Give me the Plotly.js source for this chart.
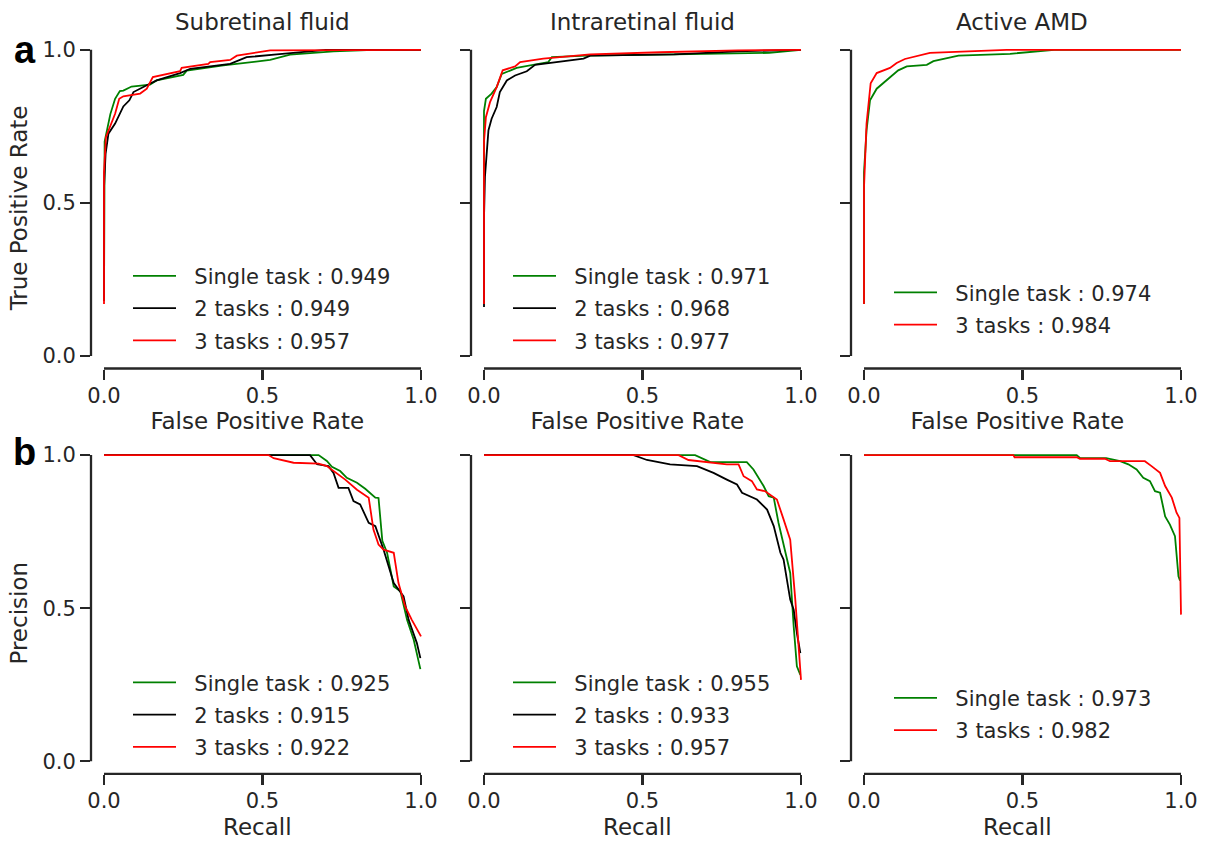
<!DOCTYPE html>
<html><head><meta charset="utf-8">
<script src="https://cdn.plot.ly/plotly-3.0.1.min.js"></script>
<style>html,body{margin:0;padding:0;background:#fff}</style>
</head><body><div id="chart" style="width:1206px;height:841px"></div>
<script>
// ---------------- data ----------------
const panelTitles = ["Subretinal fluid", "Intraretinal fluid", "Active AMD"];
const tickVals = [0, 0.5, 1];
const tickText = ["0.0", "0.5", "1.0"];

// ROC: Subretinal fluid
const srfRocSingleX = [0, 0, 0.002, 0.01, 0.02, 0.035, 0.042, 0.05, 0.061, 0.087, 0.145, 0.166, 0.25, 0.261, 0.377, 0.524, 0.587, 0.724, 0.85, 1.0];
const srfRocSingleY = [0.18, 0.6, 0.70, 0.74, 0.79, 0.84, 0.851, 0.865, 0.867, 0.88, 0.886, 0.90, 0.918, 0.932, 0.949, 0.967, 0.984, 0.995, 1.0, 1.0];
const srfRoc2X = [0, 0, 0.005, 0.014, 0.035, 0.05, 0.061, 0.08, 0.093, 0.135, 0.166, 0.24, 0.272, 0.398, 0.45, 0.545, 0.7, 1.0];
const srfRoc2Y = [0.18, 0.55, 0.66, 0.726, 0.759, 0.791, 0.815, 0.835, 0.862, 0.884, 0.90, 0.924, 0.938, 0.954, 0.976, 0.985, 1.0, 1.0];
const srfRoc3X = [0, 0, 0.006, 0.019, 0.035, 0.048, 0.061, 0.114, 0.135, 0.154, 0.24, 0.245, 0.329, 0.335, 0.398, 0.419, 0.482, 0.524, 1.0];
const srfRoc3Y = [0.17, 0.6, 0.715, 0.748, 0.791, 0.84, 0.848, 0.857, 0.873, 0.911, 0.930, 0.941, 0.954, 0.96, 0.967, 0.981, 0.992, 0.998, 1.0];

// ROC: Intraretinal fluid
const irfRocSingleX = [0, 0, 0.006, 0.024, 0.04, 0.056, 0.103, 0.166, 0.203, 0.214, 0.324, 0.6, 0.9, 1.0];
const irfRocSingleY = [0.17, 0.80, 0.84, 0.857, 0.878, 0.921, 0.941, 0.954, 0.96, 0.976, 0.981, 0.985, 0.99, 1.0];
const irfRoc2X = [0, 0, 0.003, 0.014, 0.024, 0.04, 0.05, 0.072, 0.098, 0.135, 0.161, 0.314, 0.335, 0.6, 0.8, 1.0];
const irfRoc2Y = [0.16, 0.45, 0.585, 0.737, 0.775, 0.813, 0.862, 0.9, 0.916, 0.930, 0.951, 0.971, 0.981, 0.985, 0.995, 1.0];
const irfRoc3X = [0, 0, 0.006, 0.019, 0.04, 0.059, 0.098, 0.114, 0.187, 0.335, 0.556, 0.8, 1.0];
const irfRoc3Y = [0.17, 0.70, 0.78, 0.829, 0.878, 0.933, 0.946, 0.96, 0.971, 0.985, 0.992, 0.998, 1.0];

// ROC: Active AMD
const amdRocSingleX = [0, 0, 0.008, 0.019, 0.04, 0.072, 0.108, 0.135, 0.198, 0.219, 0.298, 0.461, 0.555, 0.6, 1.0];
const amdRocSingleY = [0.17, 0.6, 0.737, 0.835, 0.873, 0.902, 0.933, 0.946, 0.951, 0.963, 0.981, 0.987, 0.995, 1.0, 1.0];
const amdRoc3X = [0, 0, 0.008, 0.021, 0.04, 0.082, 0.103, 0.129, 0.208, 0.33, 0.45, 1.0];
const amdRoc3Y = [0.17, 0.55, 0.759, 0.891, 0.924, 0.941, 0.957, 0.970, 0.99, 0.995, 1.0, 1.0];

// PR: Subretinal fluid
const srfPrSingleX = [0, 0.677, 0.703, 0.719, 0.745, 0.766, 0.798, 0.824, 0.856, 0.866, 0.878, 0.893, 0.914, 0.935, 0.956, 0.977, 0.998];
const srfPrSingleY = [1, 1, 0.981, 0.962, 0.948, 0.926, 0.910, 0.890, 0.861, 0.86, 0.72, 0.681, 0.571, 0.555, 0.462, 0.397, 0.301];
const srfPr2X = [0, 0.650, 0.672, 0.708, 0.724, 0.740, 0.771, 0.787, 0.808, 0.835, 0.856, 0.882, 0.914, 0.945, 0.961, 0.987, 0.998];
const srfPr2Y = [1, 1, 0.970, 0.964, 0.942, 0.893, 0.893, 0.850, 0.839, 0.779, 0.768, 0.691, 0.582, 0.539, 0.462, 0.386, 0.337];
const srfPr3X = [0, 0.519, 0.535, 0.598, 0.677, 0.703, 0.761, 0.798, 0.835, 0.850, 0.866, 0.882, 0.914, 0.929, 0.950, 0.971, 1.0];
const srfPr3Y = [1, 1, 0.990, 0.975, 0.972, 0.964, 0.920, 0.887, 0.861, 0.757, 0.708, 0.691, 0.681, 0.582, 0.506, 0.462, 0.408];

// PR: Intraretinal fluid
const irfPrSingleX = [0, 0.666, 0.714, 0.829, 0.850, 0.882, 0.898, 0.914, 0.929, 0.950, 0.966, 0.977, 0.987, 0.998];
const irfPrSingleY = [1, 1, 0.977, 0.977, 0.953, 0.899, 0.866, 0.861, 0.779, 0.691, 0.615, 0.440, 0.310, 0.282];
const irfPr2X = [0, 0.472, 0.514, 0.587, 0.672, 0.724, 0.766, 0.798, 0.814, 0.861, 0.893, 0.914, 0.935, 0.945, 0.966, 0.977, 0.987, 0.998];
const irfPr2Y = [1, 1, 0.984, 0.970, 0.964, 0.942, 0.920, 0.904, 0.877, 0.855, 0.822, 0.768, 0.681, 0.659, 0.528, 0.495, 0.419, 0.353];
const irfPr3X = [0, 0.614, 0.645, 0.766, 0.803, 0.819, 0.845, 0.861, 0.887, 0.924, 0.945, 0.966, 0.982, 0.992, 1.0];
const irfPr3Y = [1, 1, 0.984, 0.970, 0.970, 0.931, 0.915, 0.888, 0.882, 0.855, 0.790, 0.724, 0.528, 0.397, 0.266];

// PR: Active AMD
const amdPrSingleX = [0, 0.671, 0.681, 0.764, 0.808, 0.834, 0.860, 0.881, 0.902, 0.918, 0.934, 0.950, 0.965, 0.981, 0.992, 0.997];
const amdPrSingleY = [1, 1, 0.991, 0.99, 0.980, 0.970, 0.953, 0.926, 0.915, 0.882, 0.877, 0.800, 0.773, 0.735, 0.604, 0.59];
const amdPr3X = [0, 0.471, 0.475, 0.671, 0.681, 0.760, 0.776, 0.886, 0.907, 0.934, 0.950, 0.971, 0.986, 0.995, 1.0];
const amdPr3Y = [1, 1, 0.993, 0.993, 0.988, 0.988, 0.98, 0.980, 0.964, 0.942, 0.899, 0.861, 0.812, 0.795, 0.479];

const srfRocAuc = ["0.949", "0.949", "0.957"];
const irfRocAuc = ["0.971", "0.968", "0.977"];
const amdRocAuc = ["0.974", "0.984"];
const srfPrAuc = ["0.925", "0.915", "0.922"];
const irfPrAuc = ["0.955", "0.933", "0.957"];
const amdPrAuc = ["0.973", "0.982"];

// ---------------- layout helpers ----------------
const W = 1206, H = 841;
const TXT = "#262626";
const FONT = "DejaVu Sans, Verdana, sans-serif";
const colPx0 = [104, 484, 864];
const SX = 317;
const rowPy0 = [356, 761.3];
const SY = 306.2;
const XR = [-13 / 317, 1.008];
const YR = [-12.5 / 306, 1.008];
const C_SINGLE = "#008000", C_TWO = "#000000", C_THREE = "#ff0000";
const PAD = "\u00a0\u00a0";

const traces = [];
function addLine(x, y, color, name, idx, legendId, group) {
  traces.push({
    type: "scatter", mode: "lines", x: x, y: y, name: PAD + name,
    line: {color: color, width: 1.8},
    xaxis: idx === 1 ? "x" : "x" + idx, yaxis: idx === 1 ? "y" : "y" + idx,
    legend: legendId, legendgroup: group, showlegend: true, hoverinfo: "skip"
  });
}
addLine(srfRocSingleX, srfRocSingleY, C_SINGLE, "Single task : " + srfRocAuc[0], 1, "legend", "g1");
addLine(srfRoc2X, srfRoc2Y, C_TWO, "2 tasks : " + srfRocAuc[1], 1, "legend", "g2");
addLine(srfRoc3X, srfRoc3Y, C_THREE, "3 tasks : " + srfRocAuc[2], 1, "legend", "g3");
addLine(irfRocSingleX, irfRocSingleY, C_SINGLE, "Single task : " + irfRocAuc[0], 2, "legend2", "g1");
addLine(irfRoc2X, irfRoc2Y, C_TWO, "2 tasks : " + irfRocAuc[1], 2, "legend2", "g2");
addLine(irfRoc3X, irfRoc3Y, C_THREE, "3 tasks : " + irfRocAuc[2], 2, "legend2", "g3");
addLine(amdRocSingleX, amdRocSingleY, C_SINGLE, "Single task : " + amdRocAuc[0], 3, "legend3", "g1");
addLine(amdRoc3X, amdRoc3Y, C_THREE, "3 tasks : " + amdRocAuc[1], 3, "legend3", "g3");
addLine(srfPrSingleX, srfPrSingleY, C_SINGLE, "Single task : " + srfPrAuc[0], 4, "legend4", "g1");
addLine(srfPr2X, srfPr2Y, C_TWO, "2 tasks : " + srfPrAuc[1], 4, "legend4", "g2");
addLine(srfPr3X, srfPr3Y, C_THREE, "3 tasks : " + srfPrAuc[2], 4, "legend4", "g3");
addLine(irfPrSingleX, irfPrSingleY, C_SINGLE, "Single task : " + irfPrAuc[0], 5, "legend5", "g1");
addLine(irfPr2X, irfPr2Y, C_TWO, "2 tasks : " + irfPrAuc[1], 5, "legend5", "g2");
addLine(irfPr3X, irfPr3Y, C_THREE, "3 tasks : " + irfPrAuc[2], 5, "legend5", "g3");
addLine(amdPrSingleX, amdPrSingleY, C_SINGLE, "Single task : " + amdPrAuc[0], 6, "legend6", "g1");
addLine(amdPr3X, amdPr3Y, C_THREE, "3 tasks : " + amdPrAuc[1], 6, "legend6", "g3");

const layout = {
  width: W, height: H,
  margin: {l: 0, r: 0, t: 0, b: 0},
  paper_bgcolor: "#ffffff", plot_bgcolor: "rgba(0,0,0,0)",
  font: {family: FONT, color: TXT, size: 21},
  showlegend: true,
  shapes: [], annotations: []
};

// legends: line start x, first row centre y
const legendSpec = [
  {lx: 133, ty: 276}, {lx: 513, ty: 276}, {lx: 894, ty: 292.5},
  {lx: 133, ty: 682.5}, {lx: 513, ty: 682.5}, {lx: 894, ty: 698}
];

for (let r = 0; r < 2; r++) {
  for (let c = 0; c < 3; c++) {
    const i = r * 3 + c + 1;
    const xk = i === 1 ? "xaxis" : "xaxis" + i;
    const yk = i === 1 ? "yaxis" : "yaxis" + i;
    const px0 = colPx0[c], py0 = rowPy0[r];
    const left = px0 + SX * XR[0], right = px0 + SX * XR[1];
    const bottom = py0 - SY * YR[0], top = py0 - SY * YR[1];
    const common = {
      showgrid: false, zeroline: false, showline: false,
      ticks: "outside", ticklen: 10, tickwidth: 2.2, tickcolor: TXT,
      tickvals: tickVals, ticktext: tickText,
      tickfont: {family: FONT, size: 21, color: TXT},
      fixedrange: true
    };
    layout[xk] = Object.assign({}, common, {
      domain: [left / W, right / W], range: XR.slice(),
      anchor: i === 1 ? "y" : "y" + i,
      ticklabelstandoff: -2,
      title: {text: r === 0 ? "False Positive Rate" : "Recall", font: {family: FONT, size: 23, color: TXT}, standoff: 6}
    });
    layout[yk] = Object.assign({}, common, {
      domain: [1 - bottom / H, 1 - top / H], range: YR.slice(),
      anchor: i === 1 ? "x" : "x" + i,
      showticklabels: c === 0,
      title: c === 0 ? {text: r === 0 ? "True Positive Rate" : "Precision", font: {family: FONT, size: 23, color: TXT}, standoff: 8} : {text: ""}
    });
    // offset spines
    layout.shapes.push({type: "line", xref: "paper", yref: "paper",
      x0: left / W, x1: left / W, y0: 1 - py0 / H, y1: 1 - (py0 - SY) / H,
      line: {color: TXT, width: 2.3}});
    layout.shapes.push({type: "line", xref: "paper", yref: "paper",
      x0: px0 / W, x1: (px0 + SX) / W, y0: 1 - bottom / H, y1: 1 - bottom / H,
      line: {color: TXT, width: 2.3}});
    // legend
    const ls = legendSpec[i - 1];
    const lk = i === 1 ? "legend" : "legend" + i;
    layout[lk] = {
      x: (ls.lx - 5) / W, y: 1 - (ls.ty - 20.3) / H, xanchor: "left", yanchor: "top",
      xref: "paper", yref: "paper",
      bgcolor: "rgba(0,0,0,0)", borderwidth: 0,
      font: {family: FONT, size: 21, color: TXT},
      tracegroupgap: 2, itemwidth: 43, traceorder: "grouped"
    };
  }
}

// panel titles
for (let c = 0; c < 3; c++) {
  layout.annotations.push({text: panelTitles[c], xref: c === 0 ? "x" : "x" + (c + 1), yref: "paper",
    x: 0.5, y: 1 - 22 / H, xanchor: "center", yanchor: "middle", showarrow: false,
    font: {family: FONT, size: 23, color: TXT}});
}
// panel letters
layout.annotations.push({text: "<b>a</b>", xref: "paper", yref: "paper", x: 12 / W, y: 1 - 50 / H,
  xanchor: "left", yanchor: "middle", showarrow: false, font: {family: "Liberation Sans, Arial, sans-serif", size: 38, color: "#000"}});
layout.annotations.push({text: "<b>b</b>", xref: "paper", yref: "paper", x: 11 / W, y: 1 - 452 / H,
  xanchor: "left", yanchor: "middle", showarrow: false, font: {family: "Liberation Sans, Arial, sans-serif", size: 38, color: "#000"}});

Plotly.newPlot("chart", traces, layout, {staticPlot: true, displayModeBar: false});
</script>
</body></html>
